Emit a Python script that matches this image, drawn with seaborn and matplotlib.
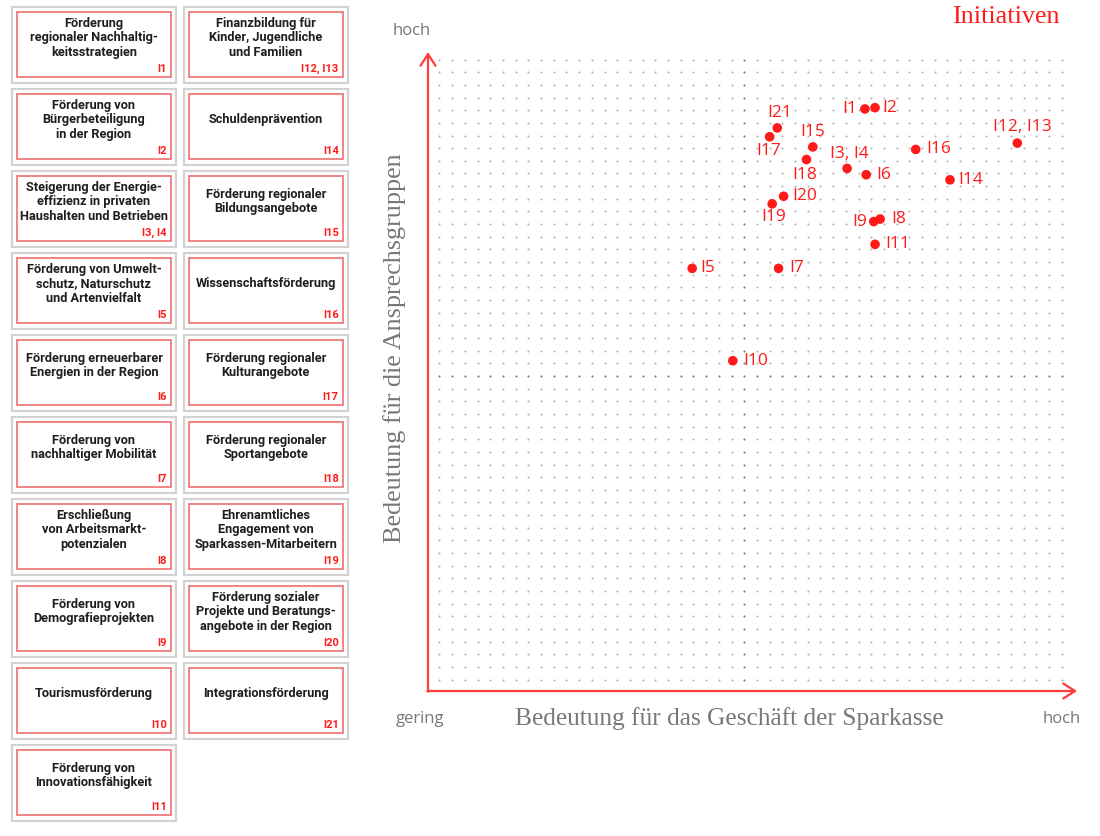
import numpy as np
import matplotlib
matplotlib.use("Agg")
import matplotlib.pyplot as plt
from matplotlib.patches import Rectangle
import seaborn as sns

# Initiativen: Bedeutung für das Geschäft (x) und für die Anspruchsgruppen (y), in Rasterpunkten
codes = ['I1', 'I2', 'I3, I4', 'I5', 'I6', 'I7', 'I8', 'I9', 'I10', 'I11',
         'I12, I13', 'I14', 'I15', 'I16', 'I17', 'I18', 'I19', 'I20', 'I21']
geschaeft = [33.5, 34.3, 32.1, 19.9, 33.6, 26.7, 34.7, 34.2, 23.1, 34.3,
             45.5, 40.2, 29.4, 37.5, 26.0, 28.9, 26.2, 27.1, 26.6]
anspruch = [45.1, 45.2, 40.4, 32.5, 39.9, 32.5, 36.4, 36.2, 25.2, 34.4,
            42.4, 39.5, 42.1, 41.9, 42.9, 41.1, 37.6, 38.2, 43.6]

left_titles = [
    "Förderung\nregionaler Nachhaltig-\nkeitsstrategien",
    "Förderung von\nBürgerbeteiligung\nin der Region",
    "Steigerung der Energie-\neffizienz in privaten\nHaushalten und Betrieben",
    "Förderung von Umwelt-\nschutz, Naturschutz\nund Artenvielfalt",
    "Förderung erneuerbarer\nEnergien in der Region",
    "Förderung von\nnachhaltiger Mobilität",
    "Erschließung\nvon Arbeitsmarkt-\npotenzialen",
    "Förderung von\nDemografieprojekten",
    "Tourismusförderung",
    "Förderung von\nInnovationsfähigkeit",
]
left_codes = ['I1', 'I2', 'I3, I4', 'I5', 'I6', 'I7', 'I8', 'I9', 'I10', 'I11']
right_titles = [
    "Finanzbildung für\nKinder, Jugendliche\nund Familien",
    "Schuldenprävention",
    "Förderung regionaler\nBildungsangebote",
    "Wissenschaftsförderung",
    "Förderung regionaler\nKulturangebote",
    "Förderung regionaler\nSportangebote",
    "Ehrenamtliches\nEngagement von\nSparkassen-Mitarbeitern",
    "Förderung sozialer\nProjekte und Beratungs-\nangebote in der Region",
    "Integrationsförderung",
]
right_codes = ['I12, I13', 'I14', 'I15', 'I16', 'I17', 'I18', 'I19', 'I20', 'I21']

# Lage der Beschriftung je Punkt (dx, dy in Pixel, Ausrichtung)
label_pos = {
    'I1': (-8, 0, 'right'), 'I2': (7, 0, 'left'), 'I3, I4': (2, 14, 'center'),
    'I5': (8, 0, 'left'), 'I6': (10, 0, 'left'), 'I7': (11, 0, 'left'),
    'I8': (11, 0, 'left'), 'I9': (-7, 0, 'right'), 'I10': (10, 0, 'left'),
    'I11': (10, 0, 'left'), 'I12, I13': (5, 16, 'center'), 'I14': (8, 0, 'left'),
    'I15': (0, 15, 'center'), 'I16': (11, 0, 'left'), 'I17': (-1, -14, 'center'),
    'I18': (-2, -15, 'center'), 'I19': (1, -13, 'center'), 'I20': (9, 0, 'left'),
    'I21': (2, 15, 'center'),
}

RED = '#ff1a1a'
GRAY = '#777777'
SERIF = ['Liberation Serif', 'DejaVu Serif']
CARD_FONT = ['Roboto', 'DejaVu Sans']

sns.set_theme(style='white')
plt.rcParams['font.family'] = ['Open Sans', 'DejaVu Sans']

W, H = 1100, 836
fig = plt.figure(figsize=(W / 100, H / 100), dpi=100)

# --- Kacheln links ---
cax = fig.add_axes([0, 0, 350 / W, 1])
cax.set_xlim(0, 350)
cax.set_ylim(H, 0)
cax.axis('off')

def draw_card(x0, y0, title, code):
    cax.add_patch(Rectangle((x0, y0), 164, 76, fill=False, ec='#d2d2d2', lw=1.6))
    ix, iy = x0 + 5, y0 + 5.6
    cax.add_patch(Rectangle((ix, iy), 154, 65, fill=False, ec='#f07a7a', lw=1.3))
    cax.text(ix + 77, iy + 25.5, title, ha='center', va='center', fontsize=9.2,
             fontweight='bold', color='#1e1e1e', linespacing=1.13, family=CARD_FONT)
    cax.text(ix + 150, iy + 57, code, ha='right', va='center', fontsize=8,
             fontweight='bold', color=RED, family=CARD_FONT)

for i, (t, c) in enumerate(zip(left_titles, left_codes)):
    draw_card(12, 6.7 + 82 * i, t, c)
for i, (t, c) in enumerate(zip(right_titles, right_codes)):
    draw_card(183.7, 6.7 + 82 * i, t, c)

# --- Portfolio-Diagramm ---
ax = fig.add_axes([428 / W, (H - 691) / H, 649 / W, 639 / H])
ax.set_xlim(-0.9, 50.2)
ax.set_ylim(-0.9, 49.6)
ax.axis('off')

gx, gy = np.meshgrid(np.arange(50), np.arange(50))
mid = (gx == 24) | (gy == 24)
ax.scatter(gx[~mid], gy[~mid], s=2.2, color='#b4b4b4', lw=0, zorder=1)
ax.scatter(gx[mid], gy[mid], s=2.4, color='#7a7a7a', lw=0, zorder=1)

arrow = dict(arrowstyle='->,head_length=0.7,head_width=0.45', color='#ff3b3b',
             lw=1.6, shrinkA=0, shrinkB=0)
ax.annotate('', xy=(50.2, -0.9), xytext=(-0.95, -0.9), arrowprops=arrow,
            annotation_clip=False)
ax.annotate('', xy=(-0.9, 49.6), xytext=(-0.9, -0.95), arrowprops=arrow,
            annotation_clip=False)

sns.scatterplot(x=geschaeft, y=anspruch, ax=ax, color=RED, s=48,
                edgecolor='none', zorder=3, legend=False)
for c, x, y in zip(codes, geschaeft, anspruch):
    dx, dy, ha = label_pos[c]
    ax.annotate(c, (x, y), xytext=(dx * 0.72, dy * 0.72), textcoords='offset points',
                ha=ha, va='center', fontsize=12.5, color=RED)

def ftext(x, y, s, **kw):
    fig.text(x / W, 1 - y / H, s, ha='center', va='center', **kw)

ftext(412, 31, 'hoch', fontsize=12, color=GRAY)
ftext(420, 719, 'gering', fontsize=12, color=GRAY)
ftext(1062, 719, 'hoch', fontsize=12, color=GRAY)
ftext(729, 719, 'Bedeutung für das Geschäft der Sparkasse', fontsize=18.3,
      color=GRAY, family=SERIF)
ftext(395, 348, 'Bedeutung für die Ansprechsgruppen', fontsize=18.8, rotation=90,
      color=GRAY, family=SERIF)
ftext(1006, 17, 'Initiativen', fontsize=18.8, color=RED, family=SERIF)

fig.savefig('out.png', dpi=100)
